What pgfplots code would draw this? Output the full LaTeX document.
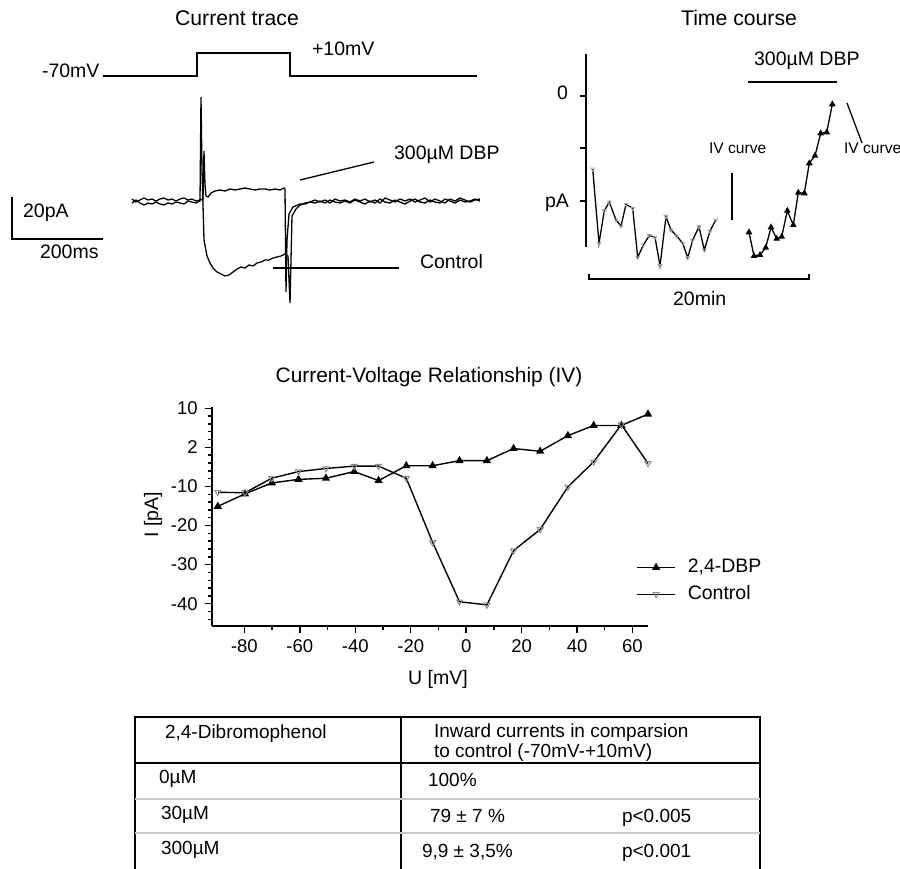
\documentclass[border=0pt]{standalone}
\usepackage{pgfplots}
\pgfplotsset{compat=1.18}
\usepackage{fontspec}
\setmainfont{Liberation Sans}

\newcommand\fttl{\fontsize{10.6}{12}\selectfont}
\newcommand\ftxt{\fontsize{9.75}{11.5}\selectfont}
\newcommand\ftick{\fontsize{9.25}{11}\selectfont}
\newcommand\fsmall{\fontsize{7.8}{9.5}\selectfont}
\newcommand\ftab{\fontsize{9.5}{11}\selectfont}

\begin{document}
\begin{tikzpicture}
% canvas in image pixels (1px = 0.5pt) for the two trace panels and the table
\begin{axis}[name=canvas, scale only axis, width=450pt, height=434pt,
  xmin=0, xmax=900, ymin=0, ymax=868, y dir=reverse,
  axis lines=none, clip=false, at={(0,0)}, anchor=south west,
  every node/.style={inner sep=0pt}]

% ---- Current trace ----
\node[anchor=base, font=\fttl] at (237,25) {Current trace};
\addplot[black, line width=0.75pt] coordinates {(103,76) (197,76) (197,53) (290,53) (290,76) (477,76)};
\node[anchor=base west, font=\ftxt] at (35,77) {-70mV};
\node[anchor=base west, font=\ftxt] at (305,55) {+10mV};

% control trace
\addplot[black, line width=0.65pt] coordinates {
 (132,203) (136,200) (140,203) (144,205) (148,203) (152,204) (156,202) (160,204)
 (164,205) (168,203) (172,204) (176,202) (180,203) (184,204) (188,201) (192,202)
 (196,203) (200,201) (201,97) (202,170) (204,240) (207,256) (210,263) (213,268)
 (217,272) (221,274) (225,276) (229,275) (233,272) (237,269) (241,267) (245,268)
 (249,265) (253,266) (257,263) (261,262) (265,260) (269,260) (273,258) (277,257)
 (281,256) (285,254) (288,256) (290,303) (292,216) (296,209) (300,205)
 (305,203) (310,202) (315,203) (320,201) (325,203) (330,200) (335,202) (340,203)
 (345,201) (350,203) (355,200) (360,202) (365,204) (370,201) (375,203) (380,199)
 (385,202) (390,203) (395,200) (400,202) (405,204) (410,201) (415,199) (420,202)
 (425,203) (430,200) (435,202) (440,203) (445,199) (450,201) (455,203) (460,200)
 (465,202) (470,201) (475,199) (480,201)};
% 300 uM DBP trace
\addplot[black, line width=0.65pt] coordinates {
 (132,199) (136,202) (140,200) (144,198) (148,200) (152,199) (156,201) (160,199)
 (164,198) (168,200) (172,199) (176,201) (180,199) (184,198) (188,200) (192,199)
 (196,201) (200,200) (203,199) (204,151) (205,185) (206,196) (208,197) (211,193)
 (215,191) (220,190) (225,191) (230,189) (235,190) (240,189) (245,188) (250,189)
 (255,190) (260,189) (265,189) (270,190) (275,189) (280,190) (284,188) (285,189)
 (286,292) (287,240) (289,214) (293,207) (300,204)
 (305,204) (310,202) (315,200) (320,202) (325,200) (330,203) (335,199) (340,201)
 (345,200) (350,202) (355,199) (360,201) (365,199) (370,202) (375,200) (380,203)
 (385,198) (390,200) (395,202) (400,199) (405,201) (410,199) (415,202) (420,200)
 (425,198) (430,202) (435,199) (440,201) (445,203) (450,199) (455,201) (460,198)
 (465,200) (470,202) (475,200) (480,199)};

\draw[line width=0.65pt] (300,180) -- (374,162);
\node[anchor=base west, font=\ftxt] at (387,159) {300µM DBP};
\draw[line width=0.65pt] (273,268) -- (399,268);
\node[anchor=base west, font=\ftxt] at (413,268) {Control};

% scale bar
\draw[line width=0.65pt] (12,197) -- (12,239) -- (103,239);
\node[anchor=base west, font=\ftxt] at (16,217) {20pA};
\node[anchor=base west, font=\ftxt] at (33,258) {200ms};

% ---- Time course ----
\node[anchor=base, font=\fttl] at (739,25) {Time course};
\draw[line width=0.65pt] (586,54) -- (586,247);
\draw[line width=0.65pt] (580,96) -- (586,96);
\draw[line width=0.65pt] (580,148) -- (586,148);
\draw[line width=0.65pt] (580,201) -- (586,201);
\node[anchor=base east, font=\ftxt] at (575,99) {0};
\node[anchor=base east, font=\ftxt] at (576,207) {pA};

\addplot[black, line width=0.65pt, mark=triangle, mark size=1.1pt,
  mark options={rotate=180, draw=black!35, fill=white, line width=0.4pt}] coordinates {
 (592.7,169) (599,243.3) (604.3,210.7) (609.3,202) (616,220) (621,226) (626,204.3)
 (632.7,208.3) (637.7,257.3) (643.3,245) (649.3,235.7) (655,237.3) (660,265.7)
 (666,216.7) (671,230) (676.7,236) (682.7,243.3) (687.7,257.7) (692.7,240)
 (699,226.7) (704.3,250) (710,231) (715.7,220)};
\addplot[black, line width=0.65pt, mark=triangle*, mark size=1.3pt] coordinates {
 (749,232.3) (754,256) (760,255) (765.7,247.7) (771,227.3) (776.7,238.7)
 (781.7,236.7) (787.3,210.7) (793.3,225) (798.3,192.7) (804.3,193.3)
 (809.3,163.3) (815,155.7) (820.7,133.3) (826.7,132.3) (832.3,104.3)};

\draw[line width=0.65pt] (732,173) -- (732,220);
\node[anchor=base west, font=\fsmall] at (702,153) {IV curve};
\draw[line width=0.65pt] (847,103) -- (862,143);
\node[anchor=base west, font=\fsmall] at (837,153) {IV curve};
\draw[line width=0.65pt] (748,82) -- (837,82);
\node[anchor=base west, font=\ftxt] at (747,65) {300µM DBP};
\draw[line width=0.65pt] (589,274) -- (589,279) -- (809,279) -- (809,274);
\node[anchor=base west, font=\ftxt] at (666,305) {20min};

% ---- IV labels ----
\node[anchor=base, font=\fontsize{10.45}{12}\selectfont] at (429,382) {Current-Voltage Relationship (IV)};
\node[anchor=base, font=\ftxt] at (438,684) {U [mV]};
\node[anchor=base, rotate=90, font=\ftxt] at (158,515) {I [pA]};

% ---- Table ----
\draw[line width=1pt] (135,870) -- (135,717) -- (760,717) -- (760,870);
\draw[line width=1pt] (401,717) -- (401,870);
\draw[line width=1pt] (135,763) -- (760,763);
\draw[line width=0.8pt, black!22] (135,799) -- (760,799);
\draw[line width=0.8pt, black!22] (135,833) -- (760,833);
\node[anchor=base west, font=\ftab] at (158,738) {2,4-Dibromophenol};
\node[anchor=base west, font=\ftab] at (427,737) {Inward currents in comparsion};
\node[anchor=base west, font=\ftab] at (427,757) {to control (-70mV-+10mV)};
\node[anchor=base west, font=\ftab] at (152,783) {0µM};
\node[anchor=base west, font=\ftab] at (421,786) {100\%};
\node[anchor=base west, font=\ftab] at (154,819) {30µM};
\node[anchor=base west, font=\ftab] at (423,822) {79 ± 7 \%};
\node[anchor=base west, font=\ftab] at (615,822) {p<0.005};
\node[anchor=base west, font=\ftab] at (154,854) {300µM};
\node[anchor=base west, font=\ftab] at (415,857) {9,9 ± 3,5\%};
\node[anchor=base west, font=\ftab] at (615,857) {p<0.001};
\end{axis}

% ---- Current-Voltage Relationship ----
\begin{axis}[scale only axis, width=218.15pt, height=109.65pt,
  at={(105.85pt,121pt)}, anchor=south west,
  xmin=-91.8, xmax=65.6, ymin=-45.7, ymax=10.4,
  axis x line*=bottom, axis y line*=left,
  axis line style={line width=0.9pt,-},
  xtick={-80,-60,-40,-20,0,20,40,60},
  xticklabels={-80,-60,-40,-20,0,20,40,60},
  minor xtick={-70,-50,-30,-10,10,30,50},
  ytick={10,0,-10,-20,-30,-40},
  yticklabels={10,2,-10,-20,-30,-40},
  minor ytick={-44,-42,...,8},
  tick align=outside, major tick length=3.5pt, minor tick length=2pt,
  tick style={line width=0.7pt, black},
  tick label style={font=\ftick},
  clip=false,
  legend cell align=left,
  legend image code/.code={\draw[mark repeat=2,mark phase=2,#1] plot coordinates {(0pt,0pt) (9.5pt,0pt) (19pt,0pt)};},
  legend style={at={(0.9725,0.205)}, anchor=west, draw=none, fill=none,
    font=\ftxt, inner sep=0pt, row sep=1pt,
    /tikz/every odd column/.append style={column sep=4pt}},
]
\addplot[black, line width=0.7pt, mark=triangle*, mark size=1.7pt] coordinates {
 (-89.6,-15.1) (-79.8,-11.9) (-70.1,-9.1) (-60.5,-8.2) (-50.6,-7.9) (-40.4,-6.2)
 (-31.6,-8.5) (-21.6,-4.7) (-12.1,-4.7) (-2.4,-3.4) (7.5,-3.4) (17.1,-0.3)
 (26.7,-1.0) (36.7,3.0) (46.0,5.6) (56.0,5.6) (65.6,8.5)};
\addlegendentry{2,4-DBP}
\addplot[black, line width=0.7pt, mark=triangle, mark size=1.7pt,
  mark options={rotate=180, draw=black!45, fill=white, line width=0.5pt}] coordinates {
 (-89.6,-11.5) (-79.8,-11.6) (-70.1,-7.9) (-60.5,-6.2) (-50.6,-5.4) (-40.4,-4.8)
 (-31.6,-4.8) (-21.6,-7.9) (-12.1,-24.3) (-2.4,-39.5) (7.5,-40.3) (17.1,-26.4)
 (26.7,-21.0) (36.7,-10.1) (46.0,-3.7) (56.0,5.8) (65.6,-4.1)};
\addlegendentry{Control}
\end{axis}

\pgfresetboundingbox
\path (canvas.south west) rectangle (canvas.north east);
\end{tikzpicture}
\end{document}
